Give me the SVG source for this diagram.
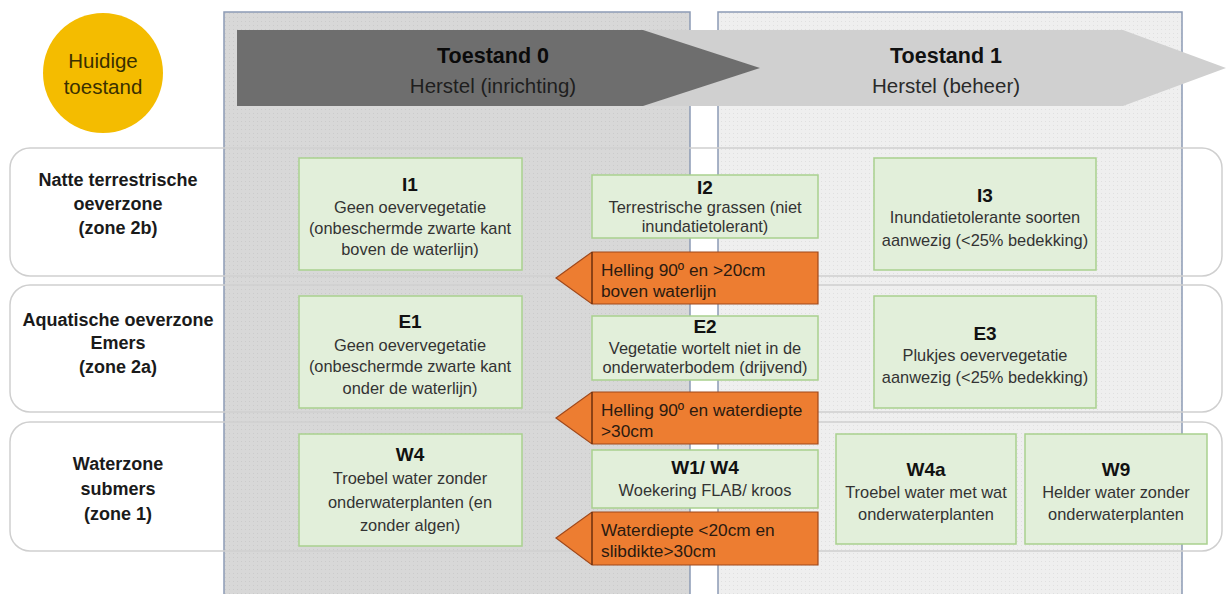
<svg xmlns="http://www.w3.org/2000/svg" width="1226" height="594" viewBox="0 0 1226 594">
<style>
text{font-family:"Liberation Sans",Arial,sans-serif;}
.lbl{font-size:18px;font-weight:bold;fill:#1a1a1a;text-anchor:middle;}
.box{fill:#e2efda;stroke:#a9d18e;stroke-width:1.5;}
.bt{font-size:19px;font-weight:bold;fill:#111;text-anchor:middle;}
.bx{font-size:16.4px;fill:#333;text-anchor:middle;}
.or{fill:#ed7d31;stroke:#a0481a;stroke-width:1.2;}
.ot{font-size:17.3px;fill:#2a1a10;}
.band{fill:none;stroke:#cfcfcf;stroke-width:1.5;}
.panel{stroke:#8c9bb5;stroke-width:1.5;}
</style>
<defs>
<pattern id="dotsL" width="4" height="4" patternUnits="userSpaceOnUse">
<rect width="4" height="4" fill="#d8d8d8"/><rect x="1" y="1" width="1" height="1" fill="#cbcbcb"/>
</pattern>
<pattern id="dotsR" width="4" height="4" patternUnits="userSpaceOnUse">
<rect width="4" height="4" fill="#efefef"/><rect x="1" y="1" width="1" height="1" fill="#e0e0e0"/>
</pattern>
</defs>
<rect width="1226" height="594" fill="#ffffff"/>
<g id="panels">
<rect id="panel0" class="panel" x="224" y="12" width="466" height="600" fill="url(#dotsL)"/>
<rect id="panel1" class="panel" x="718" y="12" width="464" height="600" fill="url(#dotsR)"/>
</g>
<g id="header1">
<polygon points="643,30 1123,30 1226,68 1123,106 643,106" fill="#d0d0d0"/>
<text x="946" y="63" font-size="21.5" font-weight="bold" fill="#111" text-anchor="middle">Toestand 1</text>
<text x="946" y="93" font-size="20.5" fill="#2a2a2a" text-anchor="middle">Herstel (beheer)</text>
</g>
<g id="header0">
<polygon points="237,30 643,30 760,68 643,106 237,106" fill="#6e6e6e"/>
<text x="493" y="63" font-size="21.5" font-weight="bold" fill="#0a0a0a" text-anchor="middle">Toestand 0</text>
<text x="493" y="93" font-size="20.5" fill="#1e1e1e" text-anchor="middle">Herstel (inrichting)</text>
</g>
<g id="current">
<circle cx="103" cy="73" r="60" fill="#f4bc00"/>
<text x="103" y="68" font-size="20.5" fill="#3a3000" text-anchor="middle">Huidige</text>
<text x="103" y="94" font-size="20.5" fill="#3a3000" text-anchor="middle">toestand</text>
</g>
<g id="bands">
<rect class="band" x="10" y="148" width="1212" height="128" rx="20"/>
<rect class="band" x="10" y="285" width="1212" height="127" rx="20"/>
<rect class="band" x="10" y="422" width="1212" height="129" rx="20"/>
</g>
<g id="zone2b">
<text class="lbl" x="118" y="186">Natte terrestrische</text>
<text class="lbl" x="118" y="210">oeverzone</text>
<text class="lbl" x="118" y="234">(zone 2b)</text>
</g>
<g id="zone2a">
<text class="lbl" x="118" y="326">Aquatische oeverzone</text>
<text class="lbl" x="118" y="349">Emers</text>
<text class="lbl" x="118" y="373">(zone 2a)</text>
</g>
<g id="zone1">
<text class="lbl" x="118" y="470">Waterzone</text>
<text class="lbl" x="118" y="495">submers</text>
<text class="lbl" x="118" y="520">(zone 1)</text>
</g>
<g id="I1">
<rect class="box" x="299" y="158" width="223" height="112"/>
<text class="bt" x="410" y="191">I1</text>
<text class="bx" x="410" y="213">Geen oevervegetatie</text>
<text class="bx" x="410" y="234">(onbeschermde zwarte kant</text>
<text class="bx" x="410" y="255">boven de waterlijn)</text>
</g>
<g id="I2">
<rect class="box" x="592" y="175" width="226" height="63"/>
<text class="bt" x="705" y="194">I2</text>
<text class="bx" x="705" y="213">Terrestrische grassen (niet</text>
<text class="bx" x="705" y="232">inundatietolerant)</text>
</g>
<g id="I3">
<rect class="box" x="874" y="158" width="222" height="112"/>
<text class="bt" x="985" y="202">I3</text>
<text class="bx" x="985" y="223">Inundatietolerante soorten</text>
<text class="bx" x="985" y="246">aanwezig (&lt;25% bedekking)</text>
</g>
<g id="E1">
<rect class="box" x="299" y="296" width="223" height="112"/>
<text class="bt" x="410" y="328">E1</text>
<text class="bx" x="410" y="351">Geen oevervegetatie</text>
<text class="bx" x="410" y="372">(onbeschermde zwarte kant</text>
<text class="bx" x="410" y="394">onder de waterlijn)</text>
</g>
<g id="E2">
<rect class="box" x="592" y="316" width="226" height="64"/>
<text class="bt" x="705" y="333">E2</text>
<text class="bx" x="705" y="354">Vegetatie wortelt niet in de</text>
<text class="bx" x="705" y="373">onderwaterbodem (drijvend)</text>
</g>
<g id="E3">
<rect class="box" x="874" y="296" width="222" height="112"/>
<text class="bt" x="985" y="340">E3</text>
<text class="bx" x="985" y="361">Plukjes oevervegetatie</text>
<text class="bx" x="985" y="383">aanwezig (&lt;25% bedekking)</text>
</g>
<g id="W4">
<rect class="box" x="299" y="434" width="223" height="112"/>
<text class="bt" x="410" y="461">W4</text>
<text class="bx" x="410" y="484">Troebel water zonder</text>
<text class="bx" x="410" y="508">onderwaterplanten (en</text>
<text class="bx" x="410" y="531">zonder algen)</text>
</g>
<g id="W1W4">
<rect class="box" x="592" y="450" width="226" height="58"/>
<text class="bt" x="705" y="474">W1/ W4</text>
<text class="bx" x="705" y="496">Woekering FLAB/ kroos</text>
</g>
<g id="W4a">
<rect class="box" x="836" y="434" width="180" height="110"/>
<text class="bt" x="926" y="476">W4a</text>
<text class="bx" x="926" y="498">Troebel water met wat</text>
<text class="bx" x="926" y="520">onderwaterplanten</text>
</g>
<g id="W9">
<rect class="box" x="1025" y="434" width="182" height="110"/>
<text class="bt" x="1116" y="476">W9</text>
<text class="bx" x="1116" y="498">Helder water zonder</text>
<text class="bx" x="1116" y="520">onderwaterplanten</text>
</g>
<g id="connectors">
<g id="step1">
<polygon class="or" points="556,278 592,252 818,252 818,304 592,304"/>
<line x1="592" y1="252" x2="592" y2="304" stroke="#6b2f0e" stroke-width="1.5"/>
<text class="ot" x="601" y="276">Helling 90º en &gt;20cm</text>
<text class="ot" x="601" y="297">boven waterlijn</text>
</g>
<g id="step2">
<polygon class="or" points="556,418 592,392 818,392 818,444 592,444"/>
<line x1="592" y1="392" x2="592" y2="444" stroke="#6b2f0e" stroke-width="1.5"/>
<text class="ot" x="601" y="416">Helling 90º en waterdiepte</text>
<text class="ot" x="601" y="437">&gt;30cm</text>
</g>
<g id="step3">
<polygon class="or" points="556,538 592,512 818,512 818,565 592,565"/>
<line x1="592" y1="512" x2="592" y2="565" stroke="#6b2f0e" stroke-width="1.5"/>
<text class="ot" x="601" y="536">Waterdiepte &lt;20cm en</text>
<text class="ot" x="601" y="557">slibdikte&gt;30cm</text>
</g>
</g>
</svg>
